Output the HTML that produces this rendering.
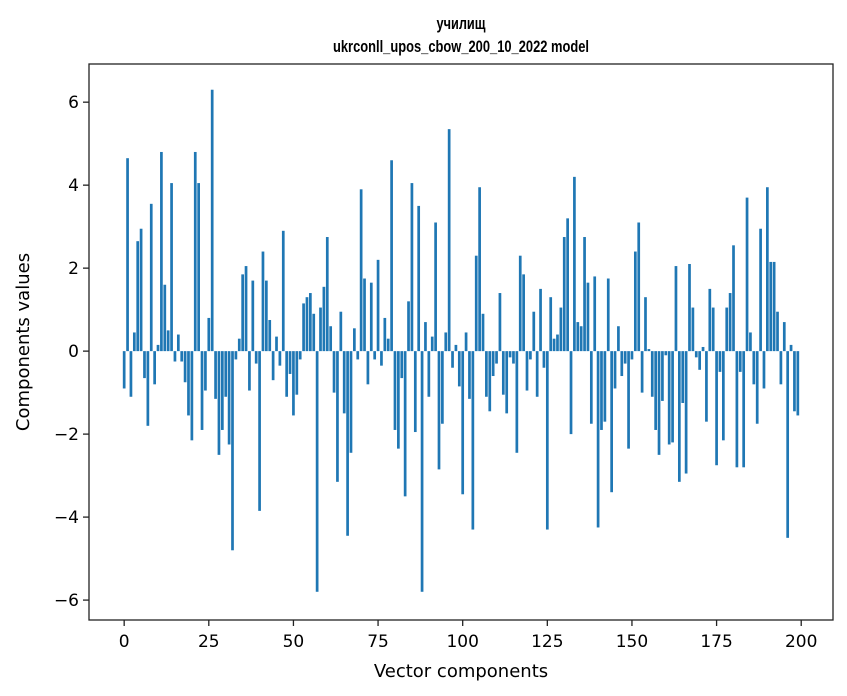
<!DOCTYPE html>
<html><head><meta charset="utf-8"><style>
body{margin:0;background:#fff;}
svg{display:block;font-family:"DejaVu Sans",sans-serif;}
</style></head><body>
<svg id="chart" width="847" height="696" viewBox="0 0 847 696" xmlns="http://www.w3.org/2000/svg">
<rect width="847" height="696" fill="#fff"/>
<text x="461" y="29" text-anchor="middle" font-family="'Liberation Sans Narrow','Liberation Sans',sans-serif" font-weight="bold" font-size="17" textLength="49" lengthAdjust="spacingAndGlyphs">училищ</text>
<text x="461" y="52" text-anchor="middle" font-family="'Liberation Sans Narrow','Liberation Sans',sans-serif" font-weight="bold" font-size="17" textLength="256" lengthAdjust="spacingAndGlyphs">ukrconll_upos_cbow_200_10_2022 model</text>
<g id="bars"></g>
<g id="axes"></g>
<text x="461" y="677" text-anchor="middle" font-size="18">Vector components</text>
<text transform="translate(29,342) rotate(-90)" text-anchor="middle" font-size="18">Components values</text>
</svg>
<script>
const values = [-0.9,4.65,-1.1,0.45,2.65,2.95,-0.65,-1.8,3.55,-0.8,0.15,4.8,1.6,0.5,4.05,-0.25,0.4,-0.25,-0.75,-1.55,
-2.15,4.8,4.05,-1.9,-0.95,0.8,6.3,-1.15,-2.5,-1.9,-1.1,-2.25,-4.8,-0.2,0.3,1.85,2.05,-0.95,1.7,-0.3,
-3.85,2.4,1.7,0.75,-0.7,0.35,-0.35,2.9,-1.1,-0.55,-1.55,-1.05,-0.2,1.15,1.3,1.4,0.9,-5.8,1.05,1.55,
2.75,0.6,-1.0,-3.15,0.95,-1.5,-4.45,-2.45,0.55,-0.2,3.9,1.75,-0.8,1.65,-0.2,2.2,-0.35,0.8,0.3,4.6,
-1.9,-2.35,-0.65,-3.5,1.2,4.05,-1.95,3.5,-5.8,0.7,-1.1,0.35,3.1,-2.85,-1.75,0.45,5.35,-0.4,0.15,-0.85,
-3.45,0.45,-1.15,-4.3,2.3,3.95,0.9,-1.1,-1.45,-0.6,-0.3,1.4,-1.05,-1.5,-0.15,-0.3,-2.45,2.3,1.85,-0.95,
-0.2,0.95,-1.1,1.5,-0.4,-4.3,1.3,0.3,0.4,1.05,2.75,3.2,-2.0,4.2,0.7,0.6,2.75,1.65,-1.75,1.8,
-4.25,-1.9,-1.7,1.75,-3.4,-0.9,0.6,-0.6,-0.3,-2.35,-0.2,2.4,3.1,-1.0,1.3,0.05,-1.1,-1.9,-2.5,-1.2,
-0.1,-2.25,-2.2,2.05,-3.15,-1.25,-2.95,2.1,1.05,-0.15,-0.45,0.1,-1.7,1.5,1.05,-2.75,-0.5,-2.15,1.05,1.4,
2.55,-2.8,-0.5,-2.8,3.7,0.45,-0.8,-1.75,2.95,-0.9,3.95,2.15,2.15,0.95,-0.8,0.7,-4.5,0.15,-1.45,-1.55];
const xTicks = [0,25,50,75,100,125,150,175,200];
const yTicks = [-6,-4,-2,0,2,4,6];
const yTickLabels = ["\u22126","\u22124","\u22122","0","2","4","6"];

const L=89,R=833,T=64,B=620;
const xMin=-10.39,xMax=209.39,yMin=-6.48,yMax=6.92;
function xs(v){return L+(v-xMin)/(xMax-xMin)*(R-L);}
function ys(v){return B-(v-yMin)/(yMax-yMin)*(B-T);}
const NS="http://www.w3.org/2000/svg";
const bars=document.getElementById('bars');
values.forEach((v,i)=>{
  const r=document.createElementNS(NS,'rect');
  
  
  const x0=xs(i-0.4),x1=xs(i+0.4);
  const y0=ys(Math.max(v,0)),y1=ys(Math.min(v,0));
  r.setAttribute('x',x0);r.setAttribute('width',x1-x0);
  r.setAttribute('y',y0);r.setAttribute('height',Math.max(y1-y0,0.5));
  r.setAttribute('fill','#1f77b4');
  bars.appendChild(r);
});
const axes=document.getElementById('axes');
const frame=document.createElementNS(NS,'rect');


frame.setAttribute('x',L);frame.setAttribute('y',T);frame.setAttribute('width',R-L);frame.setAttribute('height',B-T);
frame.setAttribute('fill','none');frame.setAttribute('stroke','#222');frame.setAttribute('stroke-width','1.3');
axes.appendChild(frame);
xTicks.forEach(t=>{
  const x=xs(t);
  const l=document.createElementNS(NS,'line');
  
  
  l.setAttribute('x1',x);l.setAttribute('x2',x);l.setAttribute('y1',B);l.setAttribute('y2',B+6);l.setAttribute('stroke','#222');l.setAttribute('stroke-width','1.3');
  axes.appendChild(l);
  const tx=document.createElementNS(NS,'text');
  
  
  tx.setAttribute('x',x);tx.setAttribute('y',647);tx.setAttribute('text-anchor','middle');tx.setAttribute('font-size','17');
  tx.textContent=String(t);
  axes.appendChild(tx);
});
yTicks.forEach((t,i)=>{
  const y=ys(t);
  const l=document.createElementNS(NS,'line');
  
  
  l.setAttribute('x1',L-6);l.setAttribute('x2',L);l.setAttribute('y1',y);l.setAttribute('y2',y);l.setAttribute('stroke','#222');l.setAttribute('stroke-width','1.3');
  axes.appendChild(l);
  const tx=document.createElementNS(NS,'text');
  
  
  tx.setAttribute('x',L-10);tx.setAttribute('y',y+6);tx.setAttribute('text-anchor','end');tx.setAttribute('font-size','17');
  tx.textContent=yTickLabels[i];
  axes.appendChild(tx);
});
</script>
</body></html>
